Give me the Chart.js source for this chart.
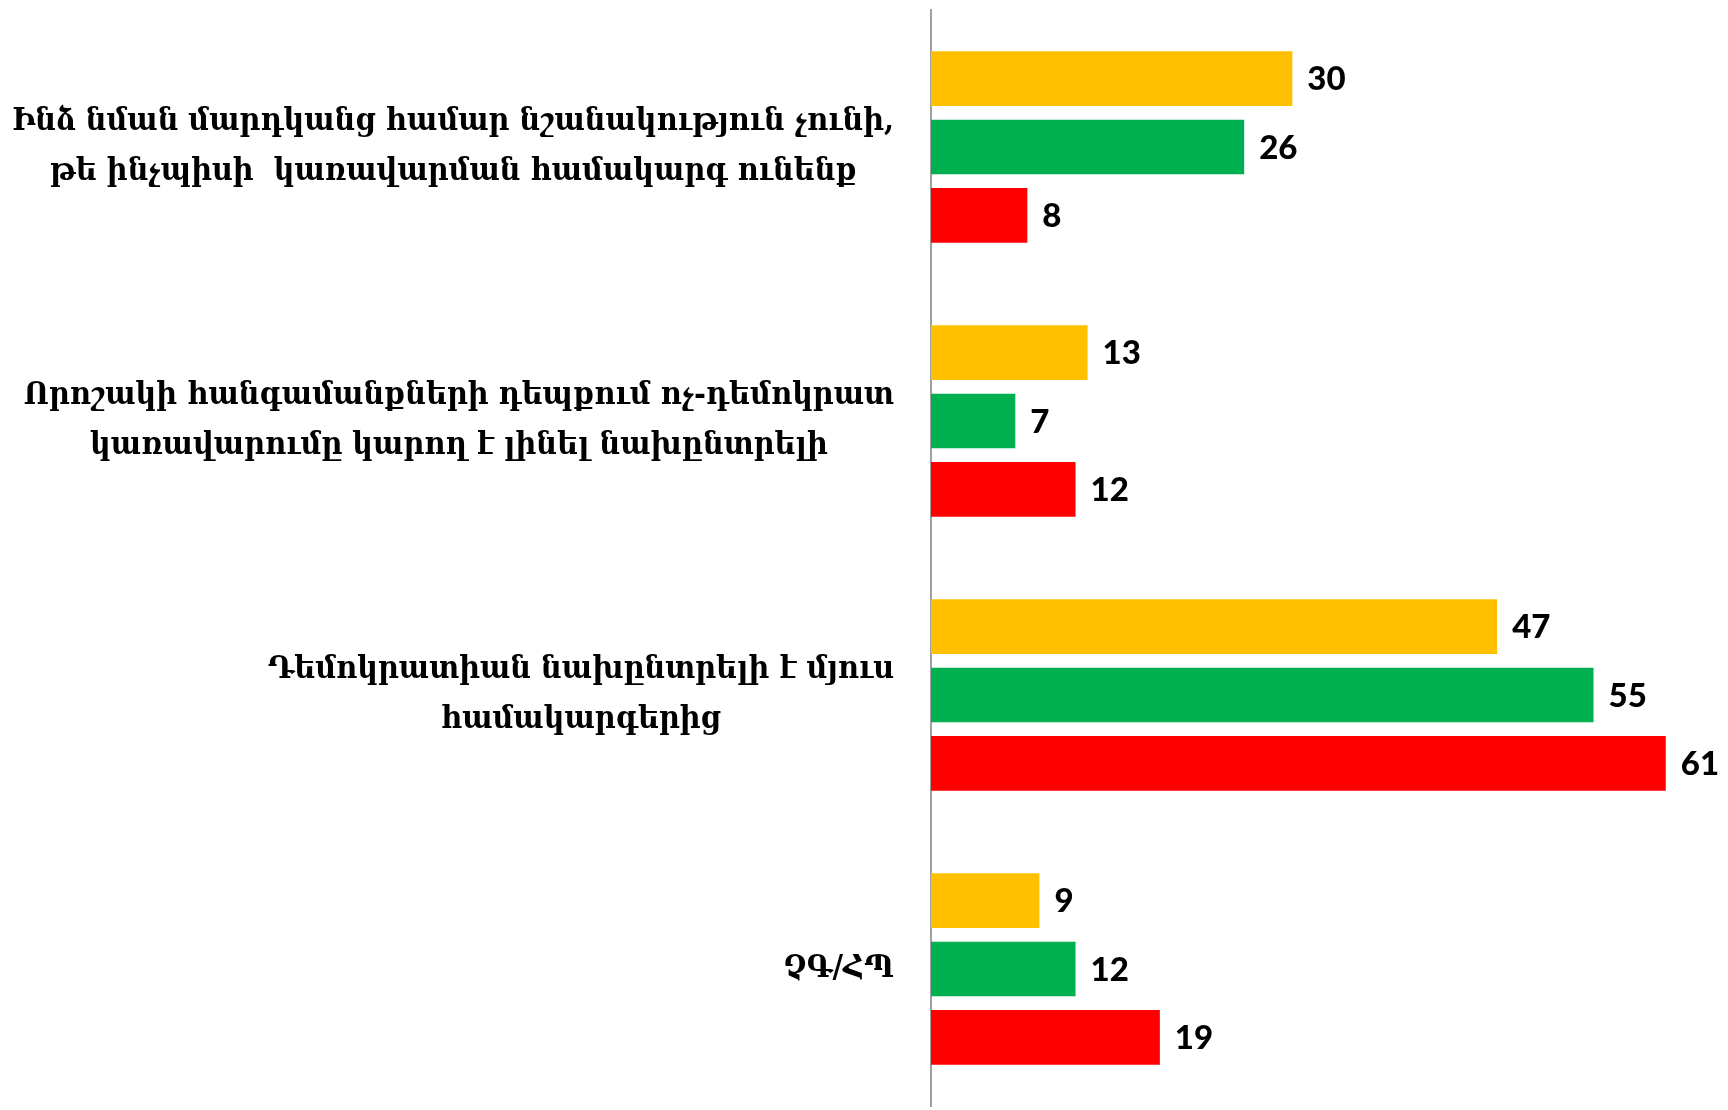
<!DOCTYPE html>
<html lang="hy">
<head>
  <meta charset="UTF-8" />
  <title>Կառավարման համակարգ</title>
  <script src="https://cdn.jsdelivr.net/npm/chart.js"></script>
  <style>
    html, body { margin: 0; padding: 0; background: #fff; }
    #wrap { width: 1728px; height: 1110px; position: relative; }
  </style>
</head>
<body>
<div id="wrap"><canvas id="chart"></canvas></div>

<script>
// categories (each one is a list of label lines)
const categories = [
  ['Ինձ նման մարդկանց համար նշանակություն չունի,', 'թե ինչպիսի  կառավարման համակարգ ունենք'],
  ['Որոշակի հանգամանքների դեպքում ոչ-դեմոկրատ', 'կառավարումը կարող է լինել նախընտրելի'],
  ['Դեմոկրատիան նախընտրելի է մյուս', 'համակարգերից'],
  ['ՉԳ/ՀՊ']
];
const seriesNames = ['Խումբ 1', 'Խումբ 2', 'Խումբ 3'];
const yellowValues = [30, 13, 47, 9];
const greenValues = [26, 7, 55, 12];
const redValues = [8, 12, 61, 19];

const labelFont = 'bold 32px "DejaVu Serif Condensed", "DejaVu Serif", serif';
const valueFont = '900 33px Lato, "Open Sans", sans-serif';

// draws the value at the end of every bar
const valueLabels = {
  id: 'valueLabels',
  afterDatasetsDraw(chart) {
    const ctx = chart.ctx;
    ctx.save();
    ctx.font = valueFont;
    ctx.fillStyle = '#000';
    ctx.textAlign = 'left';
    ctx.textBaseline = 'middle';
    chart.data.datasets.forEach((ds, i) => {
      chart.getDatasetMeta(i).data.forEach((bar, j) => {
        ctx.fillText(String(ds.data[j]), bar.x + 15, bar.y + 1);
      });
    });
    ctx.restore();
  }
};

// category labels: block right aligned, lines centered inside the block
const categoryLabels = {
  id: 'categoryLabels',
  afterDraw(chart) {
    const ctx = chart.ctx;
    const y = chart.scales.y;
    const rightEdge = 894;
    const lineHeight = 50;
    ctx.save();
    ctx.font = labelFont;
    ctx.fillStyle = '#000';
    ctx.textAlign = 'center';
    ctx.textBaseline = 'middle';
    categories.forEach((lines, i) => {
      const widest = Math.max(...lines.map(l => ctx.measureText(l.trim()).width));
      const cx = rightEdge - widest / 2;
      const cy = y.getPixelForTick(i);
      const top = cy - (lines.length - 1) * lineHeight / 2;
      lines.forEach((l, k) => ctx.fillText(l, cx, top + k * lineHeight));
    });
    ctx.restore();
  }
};

new Chart(document.getElementById('chart'), {
  type: 'bar',
  data: {
    labels: categories,
    datasets: [
      { label: seriesNames[0], data: yellowValues, backgroundColor: '#FFC000' },
      { label: seriesNames[1], data: greenValues, backgroundColor: '#00B050' },
      { label: seriesNames[2], data: redValues, backgroundColor: '#FF0000' }
    ]
  },
  options: {
    indexAxis: 'y',
    responsive: true,
    maintainAspectRatio: false,
    animation: false,
    categoryPercentage: 0.748,
    barPercentage: 0.8,
    layout: { padding: { top: 10, bottom: 4, right: 2, left: 0 } },
    plugins: { legend: { display: false }, tooltip: { enabled: false } },
    scales: {
      x: { display: false, min: 0, max: 66 },
      y: {
        ticks: { display: false },
        grid: { display: false },
        border: { display: true, color: '#A0A0A0', width: 2 },
        afterFit(scale) { scale.width = 931; }
      }
    }
  },
  plugins: [valueLabels, categoryLabels]
});
</script>
</body>
</html>
